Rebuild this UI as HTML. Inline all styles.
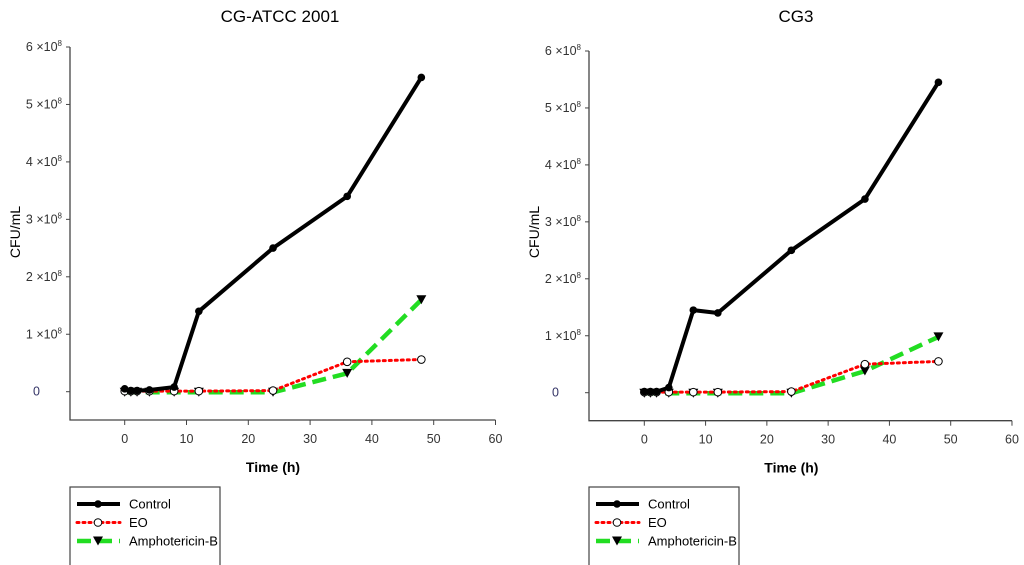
<!DOCTYPE html>
<html><head><meta charset="utf-8"><style>
html,body{margin:0;padding:0;background:#fff;}
svg{display:block;font-family:"Liberation Sans",sans-serif;}
</style></head><body>
<svg id="root" width="1024" height="565" xmlns="http://www.w3.org/2000/svg"></svg>
<script>
const times = [0,1,2,4,8,12,24,36,48];
const leftControl = [5e6,2e6,2e6,3e6,8e6,1.4e8,2.5e8,3.4e8,5.47e8];
const leftEO = [1e6,1e6,1e6,1e6,1e6,1e6,2e6,5.2e7,5.6e7];
const leftAmph = [-1e6,-1e6,-1e6,-1e6,-1e6,-1e6,-1e6,3.2e7,1.6e8];
const rightControl = [2e6,2e6,2e6,9e6,1.45e8,1.4e8,2.5e8,3.4e8,5.45e8];
const rightEO = [1e6,1e6,1e6,1e6,1e6,1e6,2e6,5e7,5.5e7];
const rightAmph = [-1e6,-1e6,-1e6,-1e6,-1e6,-1e6,-1e6,3.8e7,9.8e7];
const xTicks = [0,10,20,30,40,50,60];
const yTicks = [0,1,2,3,4,5,6];
const legendLabels = ["Control","EO","Amphotericin-B"];

const NS="http://www.w3.org/2000/svg";
const root=document.getElementById('root');
function mk(tag,attrs,parent){const e=document.createElementNS(NS,tag);for(const k in attrs)e.setAttribute(k,attrs[k]);(parent||root).appendChild(e);return e;}

function chart(cfg){
  const g=mk('g',{});
  
  
  const sx=v=>cfg.x0+(v)*cfg.xs;
  const sy=v=>cfg.y0-(v/1e8)*cfg.ys;
  const t=mk('text',{x:cfg.titleX,y:22,'font-size':17,'text-anchor':'middle',fill:'#000'},g);
  t.textContent=cfg.title;
  
  
  const ax=mk('path',{d:`M${cfg.axL},${sy(6e8)}L${cfg.axL},${cfg.axB}L${sx(60)},${cfg.axB}`,stroke:'#444',fill:'none','stroke-width':1.3},g);
  
  
  xTicks.forEach(v=>{
    mk('line',{x1:sx(v),x2:sx(v),y1:cfg.axB,y2:cfg.axB+5,stroke:'#444'},g);
    const l=mk('text',{x:sx(v),y:cfg.axB+23,'font-size':12.5,'text-anchor':'middle',fill:'#333'},g);
    l.textContent=v;
    
    
  });
  yTicks.forEach(v=>{
    const y=sy(v*1e8);
    mk('line',{x1:cfg.axL-4,x2:cfg.axL,y1:y,y2:y,stroke:'#444'},g);
    const l=mk('text',{x:cfg.axL-8,y:y+4,'font-size':12.5,'text-anchor':'end',fill:'#333'},g);
    if(v===0){l.textContent='0';l.setAttribute('x',cfg.axL-30);l.setAttribute('fill','#336');}
    else{l.textContent=v+' ×10';const s=mk('tspan',{'font-size':8,dy:-5},l);s.textContent='8';}
    
    
  });
  const xt=mk('text',{x:sx(24),y:cfg.axB+52,'font-size':14,'text-anchor':'middle','font-weight':'bold',fill:'#000'},g);
  xt.textContent='Time (h)';
  
  
  const yt=mk('text',{x:0,y:0,'font-size':14,'text-anchor':'middle',fill:'#000',transform:`translate(${cfg.axL-50},232) rotate(-90)`},g);
  yt.textContent='CFU/mL';
  
  
  const series=[
    {vals:cfg.amph,stroke:'#22dd22',w:4.5,dash:'14,7',marker:'tri',name:'amphotericin-series'},
    {vals:cfg.eo,stroke:'#ff0000',w:3,dash:'2,4',marker:'circ',name:'eo-series'},
    {vals:cfg.ctrl,stroke:'#000',w:4,dash:'',marker:'dot',name:'control-series'}
  ];
  series.forEach(s=>{
    const sg=mk('g',{},g);
    
    
    const d=s.vals.map((v,i)=>(i?'L':'M')+sx(times[i]).toFixed(1)+','+sy(v).toFixed(1)).join('');
    mk('path',{d,stroke:s.stroke,'stroke-width':s.w,fill:'none','stroke-dasharray':s.dash,'stroke-linejoin':'round','stroke-linecap':s.dash==='2,4'?'round':'butt'},sg);
    s.vals.forEach((v,i)=>drawMarker(sg,s.marker,sx(times[i]),sy(v)));
  });
  const lg=mk('g',{},g);
  
  
  mk('rect',{x:cfg.axL,y:487,width:150,height:80,fill:'none',stroke:'#444','stroke-width':1.2},lg);
  const ls=[series[2],series[1],series[0]];
  ls.forEach((s,i)=>{
    const y=504+i*18.5;
    const e=mk('g',{},lg);
    
    
    mk('line',{x1:cfg.axL+7,x2:cfg.axL+50,y1:y,y2:y,stroke:s.stroke,'stroke-width':s.w,'stroke-dasharray':s.dash,'stroke-linecap':s.dash==='2,4'?'round':'butt'},e);
    drawMarker(e,s.marker,cfg.axL+28,y);
    const tx=mk('text',{x:cfg.axL+59,y:y+4.5,'font-size':13,fill:'#000'},e);
    tx.textContent=legendLabels[i];
  });
}
function drawMarker(p,type,x,y){
  if(type==='dot')mk('circle',{cx:x,cy:y,r:3.8,fill:'#000'},p);
  else if(type==='circ')mk('circle',{cx:x,cy:y,r:3.8,fill:'#fff',stroke:'#000','stroke-width':1},p);
  else mk('path',{d:`M${x-5},${y-4.5}L${x+5},${y-4.5}L${x},${y+4.5}Z`,fill:'#000'},p);
}
chart({name:'chart-cg-atcc-2001',title:'CG-ATCC 2001',titleX:280,x0:124.7,xs:6.18,y0:391.7,ys:57.45,axL:70,axB:420,ctrl:leftControl,eo:leftEO,amph:leftAmph});
chart({name:'chart-cg3',title:'CG3',titleX:796,x0:644.3,xs:6.128,y0:392.7,ys:56.95,axL:589,axB:420.7,ctrl:rightControl,eo:rightEO,amph:rightAmph});
</script>
</body></html>
